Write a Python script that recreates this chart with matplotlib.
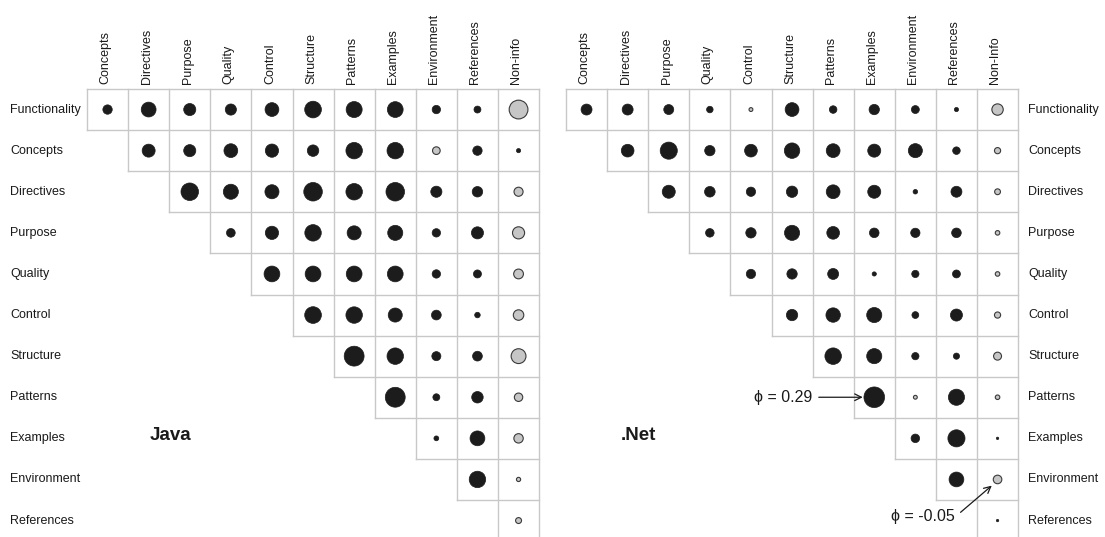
import matplotlib
matplotlib.use("Agg")
import matplotlib.pyplot as plt
import numpy as np

plt.rcParams['font.family'] = ['Liberation Sans', 'DejaVu Sans']

rows = ["Functionality", "Concepts", "Directives", "Purpose", "Quality", "Control",
        "Structure", "Patterns", "Examples", "Environment", "References"]
java_cols = ["Concepts", "Directives", "Purpose", "Quality", "Control", "Structure",
             "Patterns", "Examples", "Environment", "References", "Non-info"]
net_cols = ["Concepts", "Directives", "Purpose", "Quality", "Control", "Structure",
            "Patterns", "Examples", "Environment", "References", "Non-Info"]

# phi coefficients, row r covers columns r..10
java_phi = [
    [0.06, 0.15, 0.10, 0.085, 0.13, 0.19, 0.175, 0.17, 0.048, 0.033, -0.24],
    [0.115, 0.10, 0.13, 0.12, 0.09, 0.185, 0.185, -0.04, 0.06, 0.012],
    [0.21, 0.155, 0.135, 0.235, 0.185, 0.235, 0.085, 0.075, -0.056],
    [0.052, 0.12, 0.185, 0.135, 0.155, 0.048, 0.10, -0.10],
    [0.17, 0.17, 0.17, 0.17, 0.048, 0.044, -0.065],
    [0.19, 0.185, 0.135, 0.065, 0.021, -0.075],
    [0.27, 0.185, 0.056, 0.065, -0.15],
    [0.27, 0.033, 0.09, -0.048],
    [0.016, 0.15, -0.06],
    [0.185, -0.012],
    [-0.024],
]
net_phi = [
    [0.082, 0.082, 0.068, 0.029, -0.010, 0.13, 0.039, 0.073, 0.043, 0.012, -0.088],
    [0.11, 0.20, 0.073, 0.11, 0.163, 0.13, 0.116, 0.135, 0.039, -0.026],
    [0.116, 0.077, 0.059, 0.088, 0.13, 0.116, 0.014, 0.082, -0.023],
    [0.05, 0.073, 0.156, 0.11, 0.063, 0.059, 0.063, -0.014],
    [0.059, 0.073, 0.082, 0.012, 0.036, 0.043, -0.014],
    [0.088, 0.142, 0.156, 0.032, 0.099, -0.026],
    [0.186, 0.156, 0.036, 0.026, -0.043],
    [0.29, -0.010, 0.178, -0.014],
    [0.05, 0.20, 0.004],
    [0.149, -0.05],
    [0.004],
]

W, H = 1105, 537
fig = plt.figure(figsize=(W / 100, H / 100), dpi=100)
fig.patch.set_facecolor('white')

cell = 41.1
top = 89.0
n = 11
grid_color = '#c8c8c8'
SCALE = 760.0


def make_ax(left_px):
    ax = fig.add_axes([left_px / W, (H - (top + n * cell)) / H, n * cell / W, n * cell / H])
    ax.set_xlim(0, n)
    ax.set_ylim(n, 0)
    ax.axis('off')
    return ax


def draw_matrix(ax, phi, cols):
    # grid
    for r in range(n + 1):
        x0 = 0 if r == 0 else r - 1
        ax.plot([x0, n], [r, r], color=grid_color, lw=1.0, clip_on=False, zorder=1)
    for c in range(n + 1):
        y1 = min(c + 1, n)
        ax.plot([c, c], [0, y1], color=grid_color, lw=1.0, clip_on=False, zorder=1)
    xs, ys, vals = [], [], []
    for r, rowvals in enumerate(phi):
        for k, v in enumerate(rowvals):
            xs.append(r + k + 0.5)
            ys.append(r + 0.5)
            vals.append(v)
    vals = np.array(vals)
    xs = np.array(xs)
    ys = np.array(ys)
    pos = vals >= 0
    ax.scatter(xs[pos], ys[pos], s=SCALE * np.abs(vals[pos]), c='#1c1c1c',
               edgecolors='#1c1c1c', linewidths=0.5, zorder=3, clip_on=False)
    ax.scatter(xs[~pos], ys[~pos], s=SCALE * np.abs(vals[~pos]), c='#c6c6c6',
               edgecolors='#3a3a3a', linewidths=0.8, zorder=3, clip_on=False)
    for c, name in enumerate(cols):
        ax.text(c + 0.45, -0.12, name, rotation=90, ha='center', va='bottom',
                fontsize=9, color='#1a1a1a')


ax_j = make_ax(87)
draw_matrix(ax_j, java_phi, java_cols)
ax_n = make_ax(566)
draw_matrix(ax_n, net_phi, net_cols)

for r, name in enumerate(rows):
    ax_j.text(-77 / cell, r + 0.5, name, ha='left', va='center', fontsize=9, color='#1a1a1a')
    ax_n.text(n + 10 / cell, r + 0.5, name, ha='left', va='center', fontsize=9, color='#1a1a1a')

ax_j.text(2.03, 8.42, "Java", ha='center', va='center', fontsize=13.5,
          fontweight='bold', color='#1a1a1a')
ax_n.text(1.76, 8.42, ".Net", ha='center', va='center', fontsize=13.5,
          fontweight='bold', color='#1a1a1a')

ax_n.text(6.0, 7.5, "\u03d5 = 0.29", ha='right', va='center', fontsize=11.5, color='#1a1a1a')
ax_n.annotate("", xy=(7.22, 7.5), xytext=(6.15, 7.5),
              arrowprops=dict(arrowstyle='->', color='#1a1a1a', lw=0.9,
                              shrinkA=0, shrinkB=0, mutation_scale=12))
ax_n.text(9.45, 10.4, "\u03d5 = -0.05", ha='right', va='center', fontsize=11.5, color='#1a1a1a')
ax_n.annotate("", xy=(10.36, 9.65), xytext=(9.6, 10.3),
              arrowprops=dict(arrowstyle='->', color='#1a1a1a', lw=0.9,
                              shrinkA=0, shrinkB=0, mutation_scale=12))

fig.savefig("out.png", dpi=100, facecolor='white')
